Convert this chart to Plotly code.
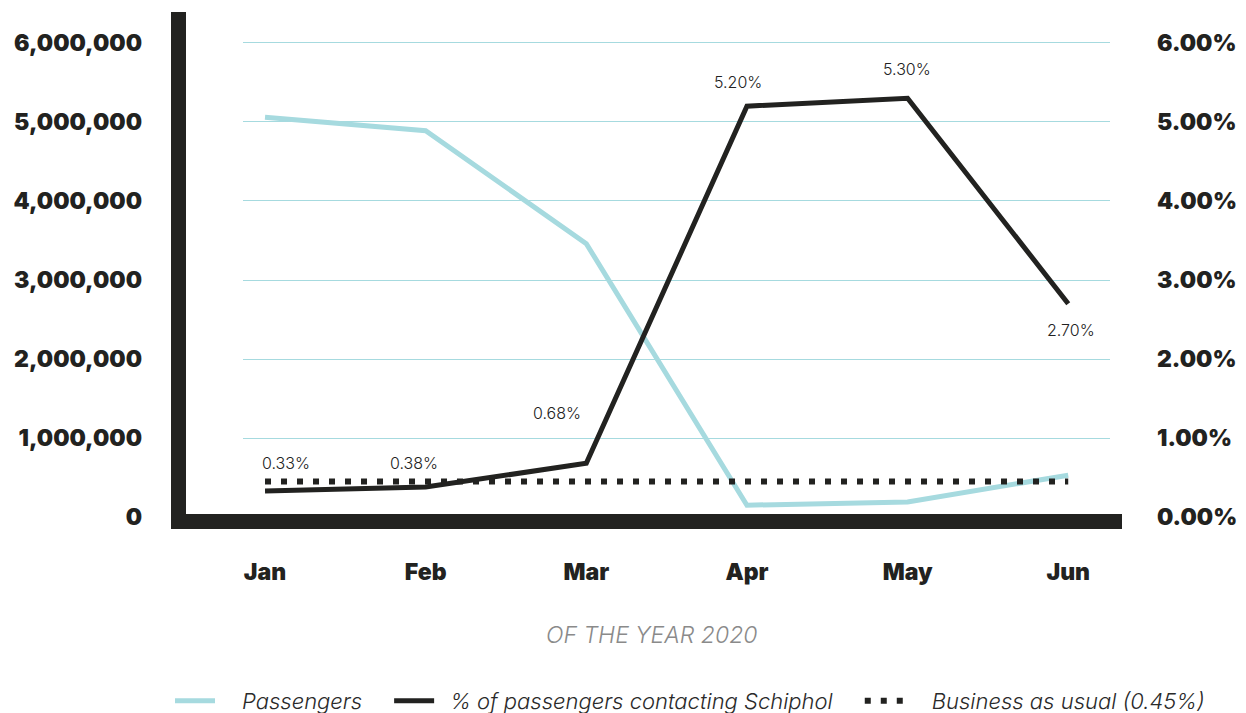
import plotly.graph_objects as go

months = ["Jan", "Feb", "Mar", "Apr", "May", "Jun"]
passengers = [5060000, 4890000, 3460000, 150000, 190000, 530000]
pct_contacting = [0.33, 0.38, 0.68, 5.20, 5.30, 2.70]
business_as_usual = 0.45
bau_values = [business_as_usual] * len(months)
left_ticks = [0, 1000000, 2000000, 3000000, 4000000, 5000000, 6000000]
right_ticks = [0, 1, 2, 3, 4, 5, 6]
axis_title = "OF THE YEAR 2020"
legend_names = ["Passengers", "% of passengers contacting Schiphol", "Business as usual (0.45%)"]

# label offsets (styling)
label_xshift = [21, -12, -29, -9, -1, 3]
label_yshift = [28, 24, 50, 24, 29, -26]
SP = "\u2002"  # en space for legend spacing
legend_pad = [(SP * 2, SP * 2), (SP, SP * 2), (SP * 2, "")]

CYAN = "#A6DADF"
DARK = "#222220"
W, H = 1246, 713
L, R, T, B = 243, 1110, 39, 521

def px_x(p):
    return (p - L) / (R - L)

def px_y(p):
    return (B - p) / (B - T)

def lname(i):
    return legend_pad[i][0] + legend_names[i] + legend_pad[i][1]

fig = go.Figure()
fig.add_trace(go.Scatter(x=months, y=passengers, mode="lines", name=lname(0),
                         line=dict(color=CYAN, width=5), yaxis="y"))
fig.add_trace(go.Scatter(x=months, y=pct_contacting, mode="lines", name=lname(1),
                         line=dict(color=DARK, width=5), yaxis="y2"))
fig.add_trace(go.Scatter(x=months, y=bau_values, mode="lines", name=lname(2),
                         line=dict(color=DARK, width=6, dash="6px,10px"), yaxis="y2"))

for i, (m, v) in enumerate(zip(months, pct_contacting)):
    fig.add_annotation(x=i, y=v, xref="x", yref="y2", text=f"{v:.2f}%", showarrow=False,
                       xshift=label_xshift[i], yshift=label_yshift[i],
                       font=dict(family="Inter", size=16, color="#222222", weight=300))

fig.add_annotation(x=px_x(651), y=px_y(635), xref="paper", yref="paper", text=axis_title,
                   xanchor="center", yanchor="middle", showarrow=False,
                   font=dict(family="Inter", size=23, color="#8a8a8a", style="italic", weight=300))

fig.add_shape(type="rect", xref="paper", yref="paper", x0=px_x(171), x1=px_x(186),
              y0=px_y(529), y1=px_y(12), fillcolor=DARK, line=dict(width=0), layer="above")
fig.add_shape(type="rect", xref="paper", yref="paper", x0=px_x(171), x1=px_x(1122),
              y0=px_y(529), y1=px_y(514), fillcolor=DARK, line=dict(width=0), layer="above")

tickfont = dict(family="Inter", size=23, color=DARK, weight=900)

fig.update_layout(
    width=W, height=H,
    margin=dict(l=L, r=W - R, t=T, b=H - B, autoexpand=False),
    paper_bgcolor="white", plot_bgcolor="white",
    showlegend=True,
    legend=dict(orientation="h", x=px_x(170), y=px_y(701), xanchor="left", yanchor="middle",
                font=dict(family="Inter", size=22, color="#2a2a2a", style="italic", weight=300),
                itemwidth=40, tracegroupgap=0),
    xaxis=dict(type="category", range=[-0.137, 5.26], showgrid=False, zeroline=False,
               showline=False, ticks="", tickfont=tickfont, ticklabelstandoff=35),
    yaxis=dict(range=[-50000, 6050000], tickvals=left_ticks, tickformat=",d",
               showgrid=True, gridcolor=CYAN, gridwidth=1, zeroline=False, showline=False,
               ticks="", tickfont=tickfont, ticklabelstandoff=100),
    yaxis2=dict(range=[-0.05, 6.05], tickvals=right_ticks,
                ticktext=[f"{v:.2f}%" for v in right_ticks],
                overlaying="y", side="right", showgrid=False, zeroline=False, showline=False,
                ticks="", tickfont=tickfont, ticklabelstandoff=46),
)

fig.write_html("out.html")
